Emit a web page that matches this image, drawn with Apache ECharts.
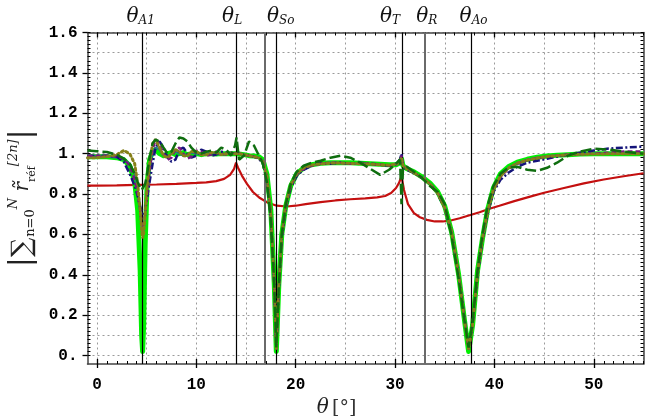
<!DOCTYPE html>
<html><head><meta charset="utf-8">
<script src="https://cdn.jsdelivr.net/npm/echarts@6/dist/echarts.min.js"></script>
<style>html,body{margin:0;padding:0;background:#fff}#c{width:645px;height:417px}</style>
</head><body><div id="c"></div>
<script>
// ---- data ----
const theta = [
 -0.95, 0, 1, 2, 2.7, 3.3, 3.8, 4.1, 4.35, 4.5,
 4.6, 4.7, 4.85, 5.05, 5.3, 5.6, 5.9, 6.3, 6.7, 7.1,
 7.5, 7.9, 8.3, 8.7, 9.1, 9.5, 10, 10.5, 11, 11.5,
 12, 12.5, 13, 13.5, 13.9, 14.05, 14.3, 14.8, 15.3, 15.8,
 16.3, 16.7, 17.1, 17.5, 17.85, 18.05, 18.3, 18.6, 19, 19.5,
 20.1, 20.8, 21.6, 22.5, 23.5, 24.5, 25.5, 26.5, 27.5, 28.5,
 29.4, 30.1, 30.5, 30.65, 30.8, 31.2, 31.9, 32.7, 33.5, 34.3,
 35, 35.7, 36.4, 37, 37.4, 37.8, 38.3, 38.8, 39.3, 39.9,
 40.6, 41.4, 42.3, 43.3, 44.3, 45.3, 46.3, 47.4, 48.6, 50,
 51.5, 53, 55
];
const limeVals = [
 0.985, 0.985, 0.985, 0.98, 0.97, 0.94, 0.86, 0.72, 0.42, 0.1,
 0.02, 0.15, 0.55, 0.85, 0.97, 1.01, 1.02, 1.0, 0.99, 1.0,
 1.005, 0.995, 1.0, 1.005, 0.995, 1.0, 1.0, 0.995, 1.0, 1.0,
 0.998, 1.0, 1.0, 1.0, 1.0, 1.0, 0.998, 0.995, 0.99, 0.988,
 0.985, 0.97, 0.9, 0.72, 0.35, 0.02, 0.35, 0.6, 0.74, 0.84,
 0.9, 0.93, 0.945, 0.952, 0.955, 0.955, 0.955, 0.952, 0.95, 0.948,
 0.945, 0.945, 0.955, 0.975, 0.94, 0.925, 0.91, 0.885, 0.855, 0.81,
 0.74, 0.61, 0.4, 0.17, 0.02, 0.15, 0.42, 0.58, 0.72, 0.83,
 0.9, 0.935, 0.958, 0.972, 0.982, 0.988, 0.992, 0.995, 0.998, 1.0,
 1.0, 1.0, 1.0
];
const navyVals = [
 0.99, 0.99, 0.99, 0.985, 0.96, 0.9, 0.84, 0.79, 0.74, 0.71,
 0.7, 0.7, 0.72, 0.78, 0.86, 0.95, 1.03, 1.06, 1.03, 0.98,
 0.96, 0.97, 1.02, 1.03, 1.0, 0.98, 0.99, 1.02, 1.01, 0.99,
 0.995, 1.01, 1.005, 0.995, 1.0, 1.01, 1.0, 0.995, 0.99, 0.985,
 0.975, 0.95, 0.87, 0.68, 0.36, 0.05, 0.33, 0.58, 0.73, 0.83,
 0.89, 0.92, 0.94, 0.955, 0.95, 0.955, 0.95, 0.955, 0.95, 0.945,
 0.94, 0.95, 0.97, 1.0, 0.935, 0.92, 0.905, 0.88, 0.85, 0.8,
 0.73, 0.6, 0.4, 0.18, 0.04, 0.16, 0.4, 0.57, 0.7, 0.81,
 0.87, 0.905, 0.935, 0.955, 0.965, 0.975, 0.985, 0.995, 1.005, 1.015,
 1.025, 1.03, 1.035
];
const purpleVals = [
 0.99, 0.99, 0.99, 0.985, 0.975, 0.94, 0.87, 0.8, 0.72, 0.66,
 0.63, 0.64, 0.7, 0.8, 0.92, 1.02, 1.07, 1.05, 1.0, 0.97,
 0.98, 1.02, 1.03, 1.0, 0.975, 0.985, 1.015, 1.01, 0.99, 0.995,
 1.01, 1.0, 0.995, 1.005, 1.0, 1.0, 1.0, 0.995, 0.99, 0.985,
 0.98, 0.96, 0.89, 0.7, 0.34, 0.03, 0.34, 0.59, 0.74, 0.84,
 0.895, 0.925, 0.94, 0.95, 0.955, 0.955, 0.95, 0.95, 0.95, 0.945,
 0.94, 0.945, 0.96, 0.99, 0.94, 0.925, 0.905, 0.88, 0.852, 0.805,
 0.735, 0.61, 0.4, 0.17, 0.03, 0.15, 0.41, 0.58, 0.71, 0.82,
 0.885, 0.925, 0.95, 0.968, 0.978, 0.985, 0.99, 0.995, 0.998, 1.0,
 1.005, 1.01, 1.01
];
const tealVals = [
 0.985, 0.985, 0.985, 0.98, 0.97, 0.95, 0.9, 0.82, 0.72, 0.64,
 0.6, 0.62, 0.7, 0.82, 0.93, 1.0, 1.03, 1.02, 0.99, 0.985,
 1.0, 1.01, 1.0, 0.99, 0.995, 1.005, 1.0, 0.995, 1.0, 1.005,
 1.0, 0.995, 1.0, 1.0, 1.0, 1.0, 1.0, 0.995, 0.99, 0.985,
 0.98, 0.96, 0.89, 0.71, 0.35, 0.03, 0.33, 0.59, 0.74, 0.845,
 0.9, 0.928, 0.942, 0.95, 0.955, 0.953, 0.952, 0.95, 0.948, 0.945,
 0.942, 0.945, 0.958, 0.985, 0.94, 0.925, 0.905, 0.882, 0.852, 0.805,
 0.735, 0.61, 0.4, 0.17, 0.03, 0.15, 0.41, 0.58, 0.71, 0.825,
 0.89, 0.93, 0.955, 0.97, 0.98, 0.987, 0.991, 0.995, 0.998, 1.0,
 1.0, 1.0, 1.0
];
const oliveVals = [
 0.98, 0.98, 0.985, 0.995, 1.015, 1.0, 0.95, 0.85, 0.72, 0.62,
 0.58, 0.6, 0.7, 0.84, 0.95, 1.05, 1.07, 1.03, 0.99, 0.98,
 1.0, 1.02, 1.01, 0.99, 0.99, 1.01, 1.01, 0.995, 0.995, 1.005,
 1.005, 0.995, 1.0, 1.0, 1.0, 1.0, 1.0, 0.995, 0.99, 0.985,
 0.98, 0.96, 0.89, 0.7, 0.35, 0.03, 0.34, 0.6, 0.745, 0.845,
 0.9, 0.93, 0.943, 0.95, 0.953, 0.953, 0.952, 0.95, 0.948, 0.945,
 0.943, 0.947, 0.96, 0.98, 0.94, 0.925, 0.905, 0.882, 0.85, 0.803,
 0.732, 0.61, 0.4, 0.17, 0.03, 0.15, 0.41, 0.58, 0.71, 0.823,
 0.888, 0.928, 0.953, 0.968, 0.978, 0.986, 0.99, 0.994, 0.997, 0.998,
 0.999, 1.0, 1.0
];
const darkGreenVals = [
 1.015, 1.012, 1.008, 0.995, 0.975, 0.95, 0.9, 0.86, 0.83, 0.82,
 0.815, 0.82, 0.85, 0.9, 0.98, 1.05, 1.07, 1.06, 1.03, 1.0,
 1.01, 1.05, 1.08, 1.075, 1.06, 1.03, 1.005, 1.0, 1.01, 1.015,
 1.005, 1.03, 1.02, 0.99, 1.04, 1.08, 0.97, 0.99, 1.06, 1.04,
 0.99, 0.95, 0.86, 0.67, 0.35, 0.04, 0.34, 0.6, 0.75, 0.85,
 0.91, 0.94, 0.955, 0.965, 0.98, 0.99, 0.98, 0.955, 0.925, 0.895,
 0.92, 0.95, 0.97, 0.75, 0.93, 0.935, 0.91, 0.88, 0.84, 0.81,
 0.75, 0.59, 0.38, 0.17, 0.04, 0.16, 0.42, 0.6, 0.74, 0.84,
 0.9, 0.93, 0.935, 0.92, 0.915, 0.93, 0.955, 0.99, 1.01, 1.025,
 1.02, 1.01, 1.0
];
const redTheta = [
 -0.95, 0, 2, 4, 6, 8, 10, 11, 12, 12.8, 13.4, 13.8, 14.0, 14.2, 14.6, 15.1, 15.7, 16.4,
 17.2, 18.1, 19.1, 20, 21, 22.5, 24, 25.5, 27, 28.2, 29, 29.6, 30.1, 30.4, 30.65, 30.9,
 31.3, 31.9, 32.5, 33.2, 34, 34.8, 35.6, 36.5, 37.5, 38.5, 39.5, 40.5, 42, 43.5, 45, 47,
 49, 51, 53, 55
];
const redVals = [
 0.842, 0.842, 0.843, 0.845, 0.847, 0.85, 0.855, 0.858, 0.864, 0.875, 0.895, 0.925, 0.955, 0.93, 0.89, 0.85, 0.81, 0.78,
 0.757, 0.742, 0.738, 0.742, 0.75, 0.76, 0.768, 0.774, 0.778, 0.783, 0.79, 0.805, 0.83, 0.855, 0.888, 0.82,
 0.75, 0.705, 0.685, 0.672, 0.664, 0.664, 0.669, 0.68, 0.695, 0.71, 0.727, 0.742, 0.765, 0.786, 0.806, 0.83,
 0.853, 0.872, 0.888, 0.903
];
const lineAngles = [4.59, 13.98, 16.86, 18.04, 30.68, 32.96, 37.66];
const lineGray   = [false, false, true, false, false, true, false];
const labelAngles = [4.4, 13.6, 18.5, 29.5, 33.2, 37.9];
const labelSubs = ['A1', 'L', 'So', 'T', 'R', 'Ao'];
const xTickLabels = [0, 10, 20, 30, 40, 50];
const yTickLabels = [0, 0.2, 0.4, 0.6, 0.8, 1.0, 1.2, 1.4, 1.6];

// ---- helpers ----
const XMIN = -0.95, XMAX = 55, YMIN = -0.042, YMAX = 1.6;
function steps(a, b, s) { const r = []; for (let i = 0; a + i * s <= b + 1e-9; i++) r.push(+(a + i * s).toFixed(4)); return r; }
function zip(xs, ys) { return xs.map((x, i) => [x, ys[i]]); }
const monoFont = { fontFamily: 'Liberation Mono', fontWeight: 'bold', fontSize: 16, color: '#000' };
const frameColor = '#444';
const gridStyle = { color: '#9a9a9a', width: 1, type: [2, 3] };

function xa(o) {
  return Object.assign({
    type: 'value', min: XMIN, max: XMAX, position: 'bottom',
    axisLine: { show: false, onZero: false },
    axisTick: { show: false }, axisLabel: { show: false },
    splitLine: { show: false }, minorTick: { show: false }, minorSplitLine: { show: false }
  }, o);
}
function ya(o) {
  return Object.assign({
    type: 'value', min: YMIN, max: YMAX, position: 'left',
    axisLine: { show: false, onZero: false },
    axisTick: { show: false }, axisLabel: { show: false },
    splitLine: { show: false }, minorTick: { show: false }, minorSplitLine: { show: false }
  }, o);
}

const chart = echarts.init(document.getElementById('c'));
const option = {
  animation: false,
  backgroundColor: '#fff',
  grid: { left: 87.5, right: 1.5, top: 32.5, bottom: 53, containLabel: false, outerBoundsMode: 'none' },
  xAxis: [
    xa({ // main bottom
      axisLine: { show: true, onZero: false, lineStyle: { color: frameColor, width: 1.5 } },
      axisTick: { show: true, customValues: xTickLabels, inside: false, length: 4, lineStyle: { color: '#000', width: 1.3 } },
      axisLabel: Object.assign({ show: true, customValues: xTickLabels, margin: 13 }, monoFont),
      name: '{i|θ} {n|[°]}', nameLocation: 'middle', nameGap: 29,
      nameTextStyle: {
        padding: [0, 58, 0, 0],
        rich: {
          i: { fontFamily: 'DejaVu Serif', fontStyle: 'italic', fontSize: 20, color: '#222' },
          n: { fontFamily: 'DejaVu Serif', fontSize: 19, color: '#333' }
        }
      }
    }),
    xa({ // bottom minor ticks
      axisTick: { show: true, customValues: steps(0, 55, 1), inside: true, length: 3, lineStyle: { color: '#000', width: 1 } }
    }),
    xa({ // bottom major inside
      axisTick: { show: true, customValues: xTickLabels, inside: true, length: 5, lineStyle: { color: '#000', width: 1.3 } }
    }),
    xa({ // vertical grid
      axisTick: { show: false, customValues: steps(0, 55, 5) },
      splitLine: { show: true, lineStyle: gridStyle }
    }),
    xa({ // top frame + labels
      position: 'top',
      axisLine: { show: true, onZero: false, lineStyle: { color: frameColor, width: 1.5 } },
      axisTick: { show: true, customValues: steps(0, 55, 1), inside: true, length: 3, lineStyle: { color: '#000', width: 1 } },
      axisLabel: {
        show: true, customValues: labelAngles, margin: 6,
        formatter: v => { const i = labelAngles.indexOf(v); return '{t|θ}{s|' + labelSubs[i] + '}'; },
        rich: {
          t: { fontFamily: 'DejaVu Serif', fontStyle: 'italic', fontSize: 20, color: '#111' },
          s: { fontFamily: 'DejaVu Serif', fontStyle: 'italic', fontSize: 12, color: '#111', verticalAlign: 'bottom', padding: [6, 0, 0, 0] }
        }
      }
    }),
    xa({ // top major
      position: 'top',
      axisTick: { show: true, customValues: xTickLabels, inside: true, length: 5, lineStyle: { color: '#000', width: 1.3 } }
    })
  ],
  yAxis: [
    ya({ // main left
      axisLine: { show: true, onZero: false, lineStyle: { color: frameColor, width: 1.5 } },
      axisTick: { show: true, customValues: yTickLabels, inside: false, length: 5, lineStyle: { color: '#000', width: 1.3 } },
      axisLabel: Object.assign({
        show: true, customValues: yTickLabels, margin: 10,
        formatter: v => (Math.abs(v) < 1e-9 ? '0.' : (Math.abs(v - 1) < 1e-9 ? '1.' : v.toFixed(1)))
      }, monoFont),
      name: '{bar||}{sum|∑}{lo|n=0}{hi|N}{r| r̃}{lo2|réf}{hi2|[2n]}{bar||}',
      nameLocation: 'middle', nameGap: 50, nameRotate: 90,
      nameTextStyle: {
        rich: {
          bar: { fontFamily: 'DejaVu Serif', fontSize: 30, color: '#222' },
          sum: { fontFamily: 'DejaVu Serif', fontSize: 27, color: '#222' },
          lo: { fontFamily: 'DejaVu Serif', fontSize: 13, color: '#222', verticalAlign: 'bottom', padding: [9, 0, 0, 1] },
          hi: { fontFamily: 'DejaVu Serif', fontStyle: 'italic', fontSize: 13, color: '#222', verticalAlign: 'top', padding: [0, 0, 11, 0] },
          r: { fontFamily: 'DejaVu Serif', fontStyle: 'italic', fontSize: 20, color: '#222' },
          lo2: { fontFamily: 'DejaVu Serif', fontSize: 11, color: '#222', verticalAlign: 'bottom', padding: [9, 0, 0, 0] },
          hi2: { fontFamily: 'DejaVu Serif', fontStyle: 'italic', fontSize: 13, color: '#222', verticalAlign: 'top', padding: [0, 0, 11, 0] }
        }
      }
    }),
    ya({ // left minor
      axisTick: { show: true, customValues: steps(0, 1.6, 0.02), inside: true, length: 3, lineStyle: { color: '#000', width: 1 } }
    }),
    ya({ // horizontal grid
      axisTick: { show: false, customValues: steps(0, 1.6, 0.1) },
      splitLine: { show: true, lineStyle: gridStyle }
    }),
    ya({ // right frame
      position: 'right',
      axisLine: { show: true, onZero: false, lineStyle: { color: frameColor, width: 1.5 } },
      axisTick: { show: true, customValues: steps(0, 1.6, 0.02), inside: true, length: 3, lineStyle: { color: '#000', width: 1 } }
    })
  ],
  series: [
    {
      type: 'line', name: 'red', data: zip(redTheta, redVals), showSymbol: false, symbol: 'none',
      lineStyle: { color: '#c41010', width: 2.2 }, z: 2,
      markLine: {
        silent: true, symbol: ['none', 'none'], label: { show: false }, animation: false,
        data: lineAngles.map((a, i) => ({ xAxis: a, lineStyle: { type: 'solid', color: lineGray[i] ? '#6a6a6a' : '#000', width: lineGray[i] ? 2 : 1.2 } }))
      }
    },
    { type: 'line', name: 'lime', data: zip(theta, limeVals), symbol: 'none', lineStyle: { color: '#00f000', width: 5, join: 'round' }, z: 3 },
    { type: 'line', name: 'teal', data: zip(theta, tealVals), symbol: 'none', lineStyle: { color: '#1f7f7f', width: 2.2 }, z: 4 },
    { type: 'line', name: 'navy', data: zip(theta, navyVals), symbol: 'none', lineStyle: { color: '#14147a', width: 2.5, type: [7, 2.5, 2, 2.5] }, z: 5 },
    { type: 'line', name: 'purple', data: zip(theta, purpleVals), symbol: 'none', lineStyle: { color: '#7a1680', width: 2.5, type: [5, 3] }, z: 6 },
    { type: 'line', name: 'olive', data: zip(theta, oliveVals), symbol: 'none', lineStyle: { color: '#86801a', width: 3, type: [2, 3], cap: 'round' }, z: 7 },
    { type: 'line', name: 'darkgreen', data: zip(theta, darkGreenVals), symbol: 'none', lineStyle: { color: '#0f6e0f', width: 2.5, type: [11, 4] }, z: 8 }
  ]
};
chart.setOption(option);
</script>
</body></html>
